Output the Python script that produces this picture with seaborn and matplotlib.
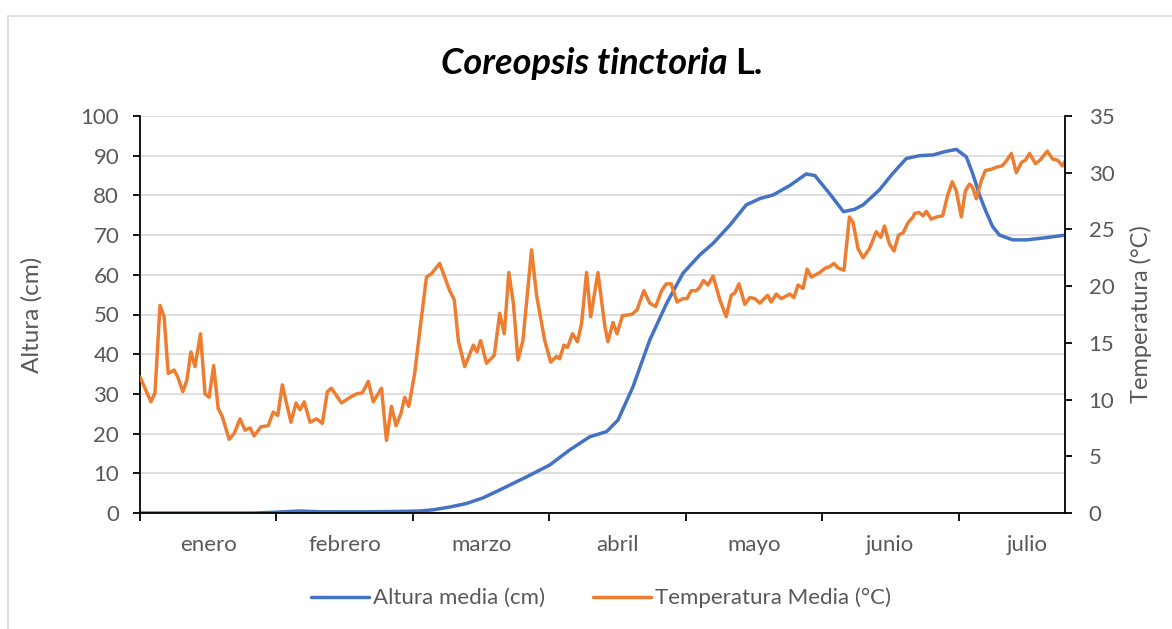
import matplotlib
matplotlib.use("Agg")
import matplotlib.pyplot as plt
import seaborn as sns
import pandas as pd
from matplotlib.patches import Rectangle

# días desde el 1 de enero (eje de 30 días por mes)
temp_dias = [0, 2.4, 3.3, 4.4, 5.3, 6.2, 7.5, 8.3, 9.4, 10.3, 11.2, 12.1, 13.3, 14.3, 15.2,
             16.2, 17.2, 18.1, 19.6, 20.7, 22.0, 23.1, 24.2, 25.1, 26.6, 28.2, 29.3, 30.3,
             31.3, 32.2, 33.2, 34.3, 35.2, 36.1, 37.4, 38.8, 40.1, 41.2, 42.1, 44.3, 46.2,
             47.6, 48.9, 50.2, 51.3, 53.1, 54.2, 55.3, 56.3, 57.4, 58.2, 59.1, 60.4, 61.9,
             63.0, 64.1, 65.9, 68.1, 69.1, 70.0, 71.4, 73.3, 74.1, 74.9, 76.2, 77.9, 79.1,
             80.1, 81.1, 82.1, 83.1, 84.2, 86.1, 87.2, 89.0, 90.3, 91.6, 92.3, 93.2, 94.0,
             95.1, 96.2, 97.1, 98.2, 99.1, 100.7, 102.2, 102.9, 104.0, 104.9, 106.1, 108.1,
             109.3, 110.8, 112.1, 113.4, 114.7, 115.7, 116.8, 118.1, 119.4, 120.3, 121.2,
             122.3, 123.1, 123.9, 124.9, 126.0, 127.5, 128.9, 130.0, 130.8, 131.7, 133.0,
             134.1, 135.2, 136.3, 138.0, 138.8, 139.9, 141.0, 142.9, 143.8, 144.7, 145.8,
             146.7, 147.6, 149.5, 150.7, 151.6, 152.6, 153.5, 154.8, 156.0, 156.8, 157.9,
             159.0, 160.4, 161.9, 162.9, 163.7, 164.8, 165.8, 166.8, 167.8, 168.9, 170.0,
             170.3, 171.3, 172.2, 172.9, 174.0, 175.1, 176.5, 177.6, 178.6, 179.5, 180.6,
             181.5, 182.4, 183.1, 183.9, 185.0, 185.9, 187.2, 188.4, 189.6, 190.8, 191.6,
             192.7, 193.8, 194.7, 195.6, 196.9, 197.9, 199.5, 200.7, 201.8, 202.8, 203.4]
temp_media = [12.0, 9.8, 10.6, 18.3, 17.3, 12.3, 12.6, 12.0, 10.7, 11.7, 14.2, 12.9, 15.8, 10.5,
              10.2, 13.0, 9.2, 8.5, 6.5, 7.0, 8.3, 7.3, 7.5, 6.8, 7.6, 7.7, 8.9, 8.6, 11.3,
              9.7, 8.0, 9.7, 9.1, 9.8, 8.0, 8.3, 7.9, 10.7, 11.0, 9.7, 10.2, 10.5, 10.6, 11.6,
              9.8, 11.0, 6.4, 9.4, 7.7, 8.8, 10.2, 9.4, 12.3, 17.3, 20.8, 21.1, 22.0, 19.6,
              18.8, 15.2, 12.9, 14.8, 14.2, 15.2, 13.2, 13.9, 17.6, 15.8, 21.2, 18.5, 13.5,
              15.2, 23.2, 19.2, 15.2, 13.3, 13.8, 13.6, 14.8, 14.6, 15.8, 15.1, 16.7, 21.2,
              17.3, 21.2, 16.5, 15.1, 16.8, 15.8, 17.4, 17.5, 17.9, 19.6, 18.5, 18.2, 19.6,
              20.2, 20.2, 18.6, 18.9, 18.9, 19.6, 19.6, 19.9, 20.5, 20.1, 20.9, 18.8, 17.3,
              19.2, 19.4, 20.2, 18.4, 19.0, 18.9, 18.5, 19.2, 18.6, 19.3, 18.9, 19.3, 19.0,
              20.1, 19.8, 21.5, 20.8, 21.2, 21.6, 21.7, 22.0, 21.6, 21.4, 26.1, 25.6, 23.3,
              22.5, 23.3, 24.8, 24.3, 25.3, 23.7, 23.1, 24.5, 24.7, 25.6, 26.1, 26.4, 26.5,
              26.2, 26.6, 25.9, 26.1, 26.2, 28.0, 29.2, 28.4, 26.1, 28.4, 29.0, 28.7, 27.7,
              29.3, 30.2, 30.3, 30.5, 30.6, 31.2, 31.7, 30.0, 30.9, 31.1, 31.7, 30.8, 31.1,
              31.9, 31.2, 31.1, 30.6, 31.0]

altura_dias = [0, 25, 30, 35, 40, 50, 57, 61.5, 64.4, 68.1, 71.8, 75.4, 79.1, 85.0, 90.1, 94.5,
               98.9, 102.6, 105.1, 108.4, 112.1, 115.8, 119.4, 123.1, 126.0, 129.7, 133.3,
               136.3, 139.2, 142.9, 146.5, 148.4, 151.6, 154.7, 157.1, 159.0, 162.6, 165.5,
               168.5, 171.4, 174.4, 176.9, 179.5, 181.7, 183.1, 184.6, 186.0, 187.5, 189.0,
               191.9, 194.9, 198.9, 203.4]
altura_media = [0.0, 0.0, 0.2, 0.5, 0.3, 0.3, 0.4, 0.5, 0.8, 1.5, 2.4, 3.8, 5.8, 9.1, 12.1, 15.9,
                19.2, 20.5, 23.4, 31.8, 43.6, 52.8, 60.4, 65.0, 67.9, 72.5, 77.6, 79.2, 80.1,
                82.5, 85.4, 85.0, 80.5, 75.9, 76.5, 77.6, 81.4, 85.5, 89.3, 90.0, 90.2, 91.0,
                91.6, 89.7, 85.5, 80.1, 76.0, 72.1, 70.0, 68.8, 68.8, 69.3, 70.0]

meses = ["enero", "febrero", "marzo", "abril", "mayo", "junio", "julio"]

df_t = pd.DataFrame({"dia": temp_dias, "temp": temp_media})
df_a = pd.DataFrame({"dia": altura_dias, "altura": altura_media})

sns.set_style("white")
plt.rcParams["font.family"] = ["Lato", "DejaVu Sans"]
gris = "#595959"
azul = "#4472C4"
naranja = "#ED7D31"

fig = plt.figure(figsize=(11.72, 6.29), dpi=100)
ax = fig.add_axes([140 / 1172, 1 - 513 / 629, 925 / 1172, 397 / 629])
ax2 = ax.twinx()

# marco exterior del gráfico
fig.patches.append(Rectangle((8 / 1172, -0.05), 1.1, 1 - 16 / 629 + 0.05, transform=fig.transFigure,
                             fill=False, edgecolor="#d9d9d9", linewidth=1.2))

sns.lineplot(data=df_a, x="dia", y="altura", ax=ax, color=azul, linewidth=2.5,
             estimator=None, label="Altura media (cm)", legend=False)
sns.lineplot(data=df_t, x="dia", y="temp", ax=ax2, color=naranja, linewidth=2.5,
             estimator=None, label="Temperatura Media (°C)", legend=False)
for l in ax.lines + ax2.lines:
    l.set_solid_joinstyle("round")
    l.set_solid_capstyle("round")

ax.set_xlim(0, 203.4)
ax.set_ylim(0, 100)
ax2.set_ylim(0, 35)
ax.set_yticks(range(0, 101, 10))
ax2.set_yticks(range(0, 36, 5))
ax.yaxis.grid(True, color="#d9d9d9", linewidth=1.2)
ax.set_axisbelow(True)

ax.set_xticks([30 * i for i in range(7)])
ax.set_xticklabels([])
ax.set_xticks([30 * i + 15 for i in range(7)], minor=True)
ax.set_xticklabels(meses, minor=True)
ax.tick_params(axis="x", which="major", direction="out", length=6, width=1.3, color="black", bottom=True)
ax.tick_params(axis="x", which="minor", length=0, labelsize=16, labelcolor=gris, pad=16)
ax.tick_params(axis="y", direction="out", length=5, width=1.3, color="black", left=True,
               labelsize=16, labelcolor=gris, pad=10)
ax2.tick_params(axis="y", direction="out", length=5, width=1.3, color="black", right=True,
                labelsize=16, labelcolor=gris, pad=12)

for a in (ax, ax2):
    a.spines["top"].set_visible(False)
    for s in ("left", "right", "bottom"):
        a.spines[s].set_color("black")
        a.spines[s].set_linewidth(1.3)
ax2.spines["left"].set_visible(False)
ax2.spines["bottom"].set_visible(False)
ax.spines["right"].set_visible(False)

ax.set_xlabel("")
ax.set_ylabel("Altura (cm)", fontsize=17.5, color=gris)
ax2.set_ylabel("Temperatura (°C)", fontsize=17, color=gris)
ax.yaxis.set_label_coords(-0.105, 0.5)
ax2.yaxis.set_label_coords(1.070, 0.5)

# título: nombre científico en cursiva
fig.text(728 / 1172, 1 - 63 / 629, "Coreopsis tinctoria", ha="right", va="center",
         fontsize=26, fontweight="bold", fontstyle="italic", color="black")
fig.text(735 / 1172, 1 - 63 / 629, "L.", ha="left", va="center",
         fontsize=26, fontweight="bold", color="black")

h1, l1 = ax.get_legend_handles_labels()
h2, l2 = ax2.get_legend_handles_labels()
fig.legend(h1 + h2, l1 + l2, loc="center", bbox_to_anchor=(601 / 1172, 1 - 598 / 629), ncol=2,
           frameon=False, fontsize=16, labelcolor=gris, handlelength=2.6, handletextpad=0.15,
           columnspacing=2.2)

fig.savefig("out.png", dpi=100)
